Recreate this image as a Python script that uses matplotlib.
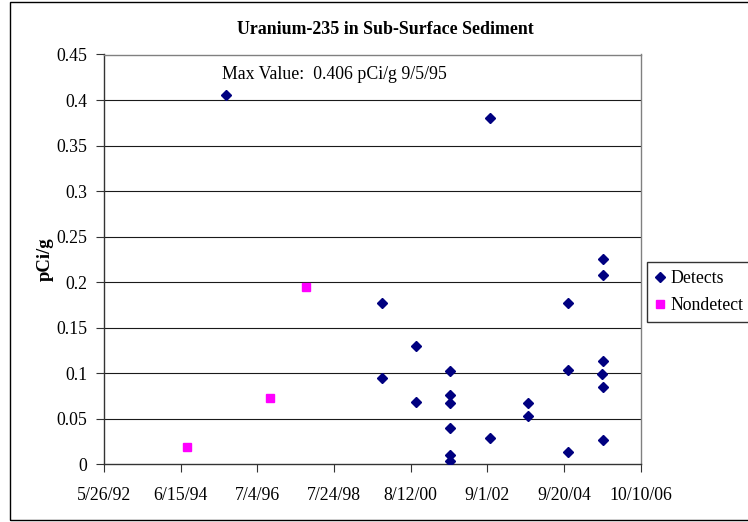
import matplotlib
matplotlib.use('Agg')
import matplotlib.pyplot as plt
import matplotlib.dates as mdates
from matplotlib.patches import Rectangle
import pandas as pd

# Valores
detect_dates = ['9/5/95',
                '11/5/99', '11/5/99',
                '10/3/00', '10/3/00',
                '8/29/01', '8/29/01', '8/29/01', '8/29/01', '8/29/01', '8/29/01',
                '9/30/02', '9/30/02',
                '10/6/03', '10/6/03',
                '10/27/04', '10/27/04', '10/27/04',
                '10/6/05', '10/6/05', '10/6/05', '9/28/05', '10/6/05', '10/6/05']
detect_values = [0.406,
                 0.177, 0.095,
                 0.130, 0.068,
                 0.102, 0.076, 0.067, 0.040, 0.010, 0.004,
                 0.380, 0.029,
                 0.067, 0.053,
                 0.177, 0.104, 0.013,
                 0.225, 0.208, 0.113, 0.099, 0.085, 0.027]

nondetect_dates = ['8/19/94', '11/8/96', '10/20/97']
nondetect_values = [0.019, 0.073, 0.195]

xtick_labels = ['5/26/92', '6/15/94', '7/4/96', '7/24/98', '8/12/00',
                '9/1/02', '9/20/04', '10/10/06']
yticks = [0, 0.05, 0.1, 0.15, 0.2, 0.25, 0.3, 0.35, 0.4, 0.45]
ytick_labels = ['0', '0.05', '0.1', '0.15', '0.2', '0.25', '0.3', '0.35', '0.4', '0.45']

plt.rcParams['font.family'] = 'Liberation Serif'
fs = 12.8

def to_num(ds):
    return mdates.date2num(pd.to_datetime(ds, format='%m/%d/%y').to_pydatetime())

xd = to_num(detect_dates)
xn = to_num(nondetect_dates)
xt = to_num(xtick_labels)

fig = plt.figure(figsize=(7.48, 5.22), dpi=100)
ax = fig.add_axes([103.8 / 748, 1 - 464.3 / 522, (640.7 - 103.8) / 748, (464.3 - 54.5) / 522])

for y in yticks[1:]:
    ax.axhline(y, color='#1a1a1a', lw=0.8, zorder=1)

ax.plot(xd, detect_values, linestyle='none', marker='D', ms=5.6, color='#000080',
        mec='#000080', label='Detects', zorder=3)
ax.plot(xn, nondetect_values, linestyle='none', marker='s', ms=6, color='#FF00FF',
        mec='#FF00FF', label='Nondetect', zorder=3)

ax.set_xlim(xt[0], xt[-1])
ax.set_ylim(0, 0.45)
ax.set_xticks(xt)
ax.set_xticklabels(xtick_labels, fontsize=fs)
ax.set_yticks(yticks)
ax.set_yticklabels(ytick_labels, fontsize=fs)
ax.tick_params(axis='y', direction='out', length=6, width=0.8, pad=6, color='#333333')
ax.tick_params(axis='x', direction='out', length=6, width=0.8, pad=10, color='#333333')

for s in ['top', 'right']:
    ax.spines[s].set_color('#808080')
    ax.spines[s].set_linewidth(1.0)
for s in ['left', 'bottom']:
    ax.spines[s].set_color('#333333')
    ax.spines[s].set_linewidth(1.0)

ax.text(0.2202, 0.950, 'Max Value:  0.406 pCi/g 9/5/95', transform=ax.transAxes,
        fontsize=fs, ha='left', va='center')

fig.text(385 / 748, 1 - 29 / 522, 'Uranium-235 in Sub-Surface Sediment',
         fontsize=12.9, fontweight='bold', ha='center', va='center')
fig.text(45 / 748, 1 - 259 / 522, 'pCi/g', fontsize=13.5, fontweight='bold',
         rotation=90, ha='center', va='center')

leg = fig.legend(loc='upper left', bbox_to_anchor=(646.5 / 748, 1 - 262 / 522),
                 borderaxespad=0, fontsize=fs, frameon=True, fancybox=False,
                 edgecolor='black', handlelength=0.6, handletextpad=0.3,
                 labelspacing=0.55, borderpad=0.45, markerscale=0.9)
leg.get_frame().set_linewidth(1.0)

# borda externa do gráfico
fig.patches.append(Rectangle((9.7 / 748, 1 - 520 / 522), 1.0, (520 - 2.3) / 522,
                             transform=fig.transFigure, fill=False,
                             edgecolor='black', lw=1.0))

fig.savefig('out.png', dpi=100)
